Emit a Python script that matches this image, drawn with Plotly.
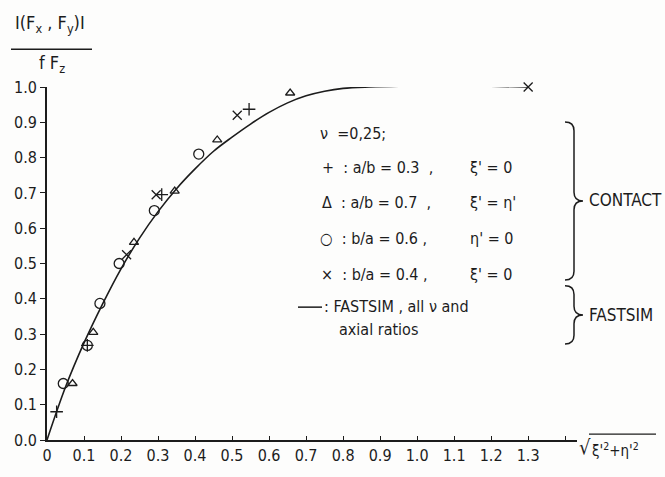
import plotly.graph_objects as go

# ---------------- data ----------------
plus_x = [0.026, 0.109, 0.31, 0.546]
plus_y = [0.08, 0.268, 0.695, 0.937]

tri_x = [0.069, 0.125, 0.235, 0.345, 0.46, 0.657, 0.873]
tri_y = [0.16, 0.305, 0.56, 0.705, 0.85, 0.983, 1.003]

circ_x = [0.044, 0.109, 0.143, 0.195, 0.29, 0.41]
circ_y = [0.16, 0.268, 0.387, 0.50, 0.65, 0.81]

cross_x = [0.215, 0.295, 0.514, 0.724, 1.30]
cross_y = [0.525, 0.695, 0.92, 1.008, 1.0]

fastsim_x = [0, 0.05, 0.1, 0.15, 0.2, 0.25, 0.3, 0.35, 0.4, 0.45, 0.5, 0.55,
             0.6, 0.65, 0.7, 0.75, 0.8, 0.87, 1.0, 1.15, 1.3]
fastsim_y = [0, 0.15, 0.275, 0.385, 0.485, 0.572, 0.647, 0.712, 0.768, 0.818,
             0.858, 0.895, 0.928, 0.955, 0.975, 0.988, 0.996, 1.0, 1.003, 1.003, 1.0]

x_tickvals = [0, 0.1, 0.2, 0.3, 0.4, 0.5, 0.6, 0.7, 0.8, 0.9, 1.0, 1.1, 1.2, 1.3, 1.4]
x_ticktext = ["0", "0.1", "0.2", "0.3", "0.4", "0.5", "0.6", "0.7", "0.8", "0.9",
              "1.0", "1.1", "1.2", "1.3", ""]
y_tickvals = [0, 0.1, 0.2, 0.3, 0.4, 0.5, 0.6, 0.7, 0.8, 0.9, 1.0]
y_ticktext = ["0.0", "0.1", "0.2", "0.3", "0.4", "0.5", "0.6", "0.7", "0.8", "0.9", "1.0"]

# ---------------- layout geometry ----------------
W, H = 665, 477
L, R, T, B = 47, 88, 87, 26
PW, PH = W - L - R, H - T - B
INK = "#1c1c1c"
FONT = "DejaVu Sans Condensed"


def px(x):
    return (x - L) / PW


def py(y):
    return (H - B - y) / PH


fig = go.Figure()

fig.add_trace(go.Scatter(x=fastsim_x, y=fastsim_y, mode="lines",
                         line=dict(color=INK, width=1.6, shape="spline", smoothing=1.0),
                         hoverinfo="skip", showlegend=False))

mk = dict(color=INK, size=9, line=dict(color=INK, width=1.3))
fig.add_trace(go.Scatter(x=plus_x, y=plus_y, mode="markers", cliponaxis=False,
                         marker=dict(symbol="cross-thin", **mk), showlegend=False))
fig.add_trace(go.Scatter(x=tri_x, y=tri_y, mode="markers", cliponaxis=False,
                         marker=dict(symbol="triangle-up-open", color=INK, size=8,
                                     line=dict(color=INK, width=1.3)), showlegend=False))
fig.add_trace(go.Scatter(x=circ_x, y=circ_y, mode="markers", cliponaxis=False,
                         marker=dict(symbol="circle-open", color=INK, size=10,
                                     line=dict(color=INK, width=1.3)), showlegend=False))
fig.add_trace(go.Scatter(x=cross_x, y=cross_y, mode="markers", cliponaxis=False,
                         marker=dict(symbol="x-thin", **mk), showlegend=False))

annotations = []
shapes = []


def text(x, y, s, size=16, xanchor="left"):
    annotations.append(dict(x=px(x), y=py(y), xref="paper", yref="paper", text=s,
                            showarrow=False, xanchor=xanchor, yanchor="middle",
                            font=dict(family=FONT, size=size, color=INK)))


# y-axis label (fraction)
text(50, 22, "I(F<sub>x</sub> , F<sub>y</sub>)I", 18, "center")
shapes.append(dict(type="line", xref="paper", yref="paper",
                   x0=px(11), x1=px(92), y0=py(48), y1=py(48),
                   line=dict(color=INK, width=1.6)))
text(52, 63, "f F<sub>z</sub>", 18, "center")

# x-axis label sqrt(xi'^2 + eta'^2)
text(577, 458, "√", 20, "left")
shapes.append(dict(type="line", xref="paper", yref="paper",
                   x0=px(589), x1=px(656), y0=py(445), y1=py(445),
                   line=dict(color=INK, width=1.3)))
text(590, 461, "ξ'<sup>2</sup>+η'<sup>2</sup>", 15, "left")

# legend text block
text(318, 135, "ν  =0,25;", 16)
text(320, 170, "+  : a/b = 0.3  ,", 16)
text(468, 170, "ξ' = 0", 16)
text(320, 206, "Δ  : a/b = 0.7  ,", 16)
text(468, 206, "ξ' = η'", 16)
text(318, 243, "○  : b/a = 0.6 ,", 16)
text(468, 243, "η' = 0", 16)
text(319, 280, "×  : b/a = 0.4 ,", 16)
text(468, 280, "ξ' = 0", 16)
shapes.append(dict(type="line", xref="paper", yref="paper",
                   x0=px(298), x1=px(322), y0=py(314), y1=py(314),
                   line=dict(color=INK, width=1.5)))
text(322, 313, ": FASTSIM , all ν and", 16)
text(337, 337, "axial ratios", 16)

text(587, 204, "CONTACT", 17)
text(587, 322, "FASTSIM", 17)


def brace(x0, ytop, ybot, w=18, r=9):
    xm = x0 + w / 2
    xt = x0 + w
    ym = (ytop + ybot) / 2
    pts = [
        f"M {px(x0)},{py(ytop)}",
        f"Q {px(xm)},{py(ytop)} {px(xm)},{py(ytop + r)}",
        f"L {px(xm)},{py(ym - r)}",
        f"Q {px(xm)},{py(ym)} {px(xt)},{py(ym)}",
        f"Q {px(xm)},{py(ym)} {px(xm)},{py(ym + r)}",
        f"L {px(xm)},{py(ybot - r)}",
        f"Q {px(xm)},{py(ybot)} {px(x0)},{py(ybot)}",
    ]
    return dict(type="path", xref="paper", yref="paper", path=" ".join(pts),
                line=dict(color=INK, width=1.5))


shapes.append(brace(565, 123, 286))
shapes.append(brace(565, 292, 352))

axis_common = dict(showgrid=False, zeroline=False, showline=True, linecolor=INK,
                   linewidth=1.6, tickcolor=INK, tickwidth=1.3,
                   tickfont=dict(family=FONT, size=16, color=INK))

fig.update_layout(
    width=W, height=H,
    margin=dict(l=L, r=R, t=T, b=B),
    paper_bgcolor="#fdfdfc", plot_bgcolor="#fdfdfc",
    xaxis=dict(range=[0, 1.432], tickmode="array", tickvals=x_tickvals,
               ticktext=x_ticktext, ticks="inside", ticklen=4, **axis_common),
    yaxis=dict(range=[0, 1.0], tickmode="array", tickvals=y_tickvals,
               ticktext=y_ticktext, ticks="outside", ticklen=5, **axis_common),
    annotations=annotations,
    shapes=shapes,
)

fig.write_html("out.html")
